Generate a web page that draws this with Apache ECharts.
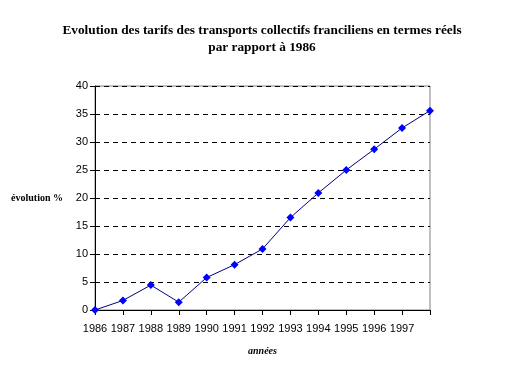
<!DOCTYPE html>
<html><head><meta charset="utf-8">
<script src="https://cdn.jsdelivr.net/npm/echarts@6/dist/echarts.min.js"></script>
<style>html,body{margin:0;padding:0;background:#fff}#c{width:524px;height:382px}</style>
</head><body><div id="c"></div>
<script>
var years = ['1986','1987','1988','1989','1990','1991','1992','1993','1994','1995','1996','1997',''];
var evolution = [0, 1.7, 4.45, 1.4, 5.8, 8.1, 10.9, 16.5, 20.9, 25.0, 28.7, 32.5, 35.6];
var titleLines = ['Evolution des tarifs des transports collectifs franciliens en termes réels', 'par rapport à 1986'];

var chart = echarts.init(document.getElementById('c'));
chart.setOption({
  backgroundColor: '#fff',
  animation: false,
  title: {
    text: titleLines.join('\n'),
    left: 'center', top: 17,
    textStyle: {fontFamily: 'Liberation Serif', fontWeight: 'bold', fontSize: 13.3, lineHeight: 17, color: '#000'}
  },
  grid: {left: 95, right: 94, top: 86, bottom: 72, show: true, borderColor: '#808080', borderWidth: 1,
         containLabel: false, outerBoundsMode: 'none'},
  xAxis: {
    type: 'category', data: years, boundaryGap: false,
    name: 'années', nameLocation: 'middle', nameGap: 36,
    nameTextStyle: {fontFamily: 'Liberation Serif', fontWeight: 'bold', fontStyle: 'italic', fontSize: 10, color: '#000'},
    axisLine: {lineStyle: {color: '#000', width: 1}},
    axisTick: {show: true, length: 5, inside: false, alignWithLabel: true, lineStyle: {color: '#000'}},
    axisLabel: {color: '#000', fontFamily: 'Liberation Sans', fontSize: 11, margin: 13, interval: 0},
    splitLine: {show: false}
  },
  yAxis: {
    type: 'value', min: 0, max: 40, interval: 5,
    name: 'évolution %', nameLocation: 'middle', nameRotate: 0, nameGap: 32,
    nameTextStyle: {fontFamily: 'Liberation Serif', fontWeight: 'bold', fontSize: 10, color: '#000'},
    axisLine: {show: true, lineStyle: {color: '#000', width: 1}},
    axisTick: {show: true, length: 5, lineStyle: {color: '#000'}},
    axisLabel: {color: '#000', fontFamily: 'Liberation Sans', fontSize: 11, margin: 7},
    splitLine: {show: true, lineStyle: {color: '#000', type: [5, 4], width: 1}}
  },
  series: [{
    type: 'line', data: evolution,
    symbol: 'diamond', symbolSize: 8,
    itemStyle: {color: '#0000FF'},
    lineStyle: {color: '#000080', width: 1}
  }]
});
</script></body></html>
